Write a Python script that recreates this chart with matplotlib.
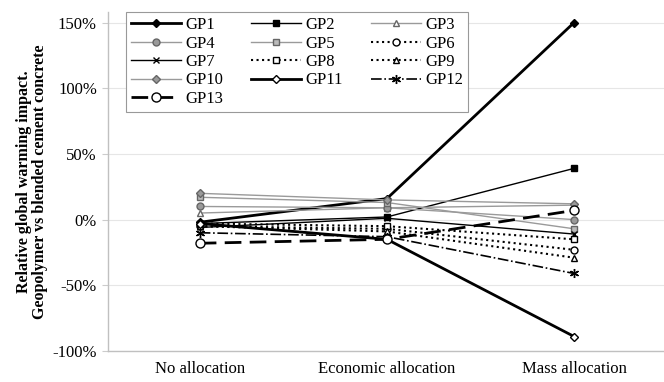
import matplotlib
matplotlib.use("Agg")
import matplotlib.pyplot as plt
from matplotlib.ticker import FuncFormatter

plt.rcParams['font.family'] = ['Liberation Serif', 'DejaVu Serif']

categories = ["No allocation", "Economic allocation", "Mass allocation"]
series_names = ["GP1", "GP2", "GP3", "GP4", "GP5", "GP6", "GP7",
                "GP8", "GP9", "GP10", "GP11", "GP12", "GP13"]
GP1 = [-2, 16, 150]
GP2 = [-3, 2, 39]
GP3 = [5, 9, 11]
GP4 = [10, 9, 0]
GP5 = [17, 13, -7]
GP6 = [-5, -7, -23]
GP7 = [-6, 1, -11]
GP8 = [-3, -5, -15]
GP9 = [-5, -9, -29]
GP10 = [20, 15, 12]
GP11 = [-3, -15, -89]
GP12 = [-10, -13, -41]
GP13 = [-18, -15, 7]
values = [GP1, GP2, GP3, GP4, GP5, GP6, GP7, GP8, GP9, GP10, GP11, GP12, GP13]
yticks = [-100, -50, 0, 50, 100, 150]

gray = '#9a9a9a'
dgray = '#666666'
styles = [
    dict(color='black', lw=2.0, ls='-', marker='D', ms=4.5, mfc='black', mec='black'),
    dict(color='black', lw=1.0, ls='-', marker='s', ms=5, mfc='black', mec='black'),
    dict(color=gray, lw=1.0, ls='-', marker='^', ms=5, mfc='white', mec=dgray),
    dict(color=gray, lw=1.0, ls='-', marker='o', ms=5, mfc=gray, mec=dgray),
    dict(color=gray, lw=1.0, ls='-', marker='s', ms=5, mfc='#bbbbbb', mec=dgray),
    dict(color='black', lw=1.5, ls=':', marker='o', ms=5, mfc='white', mec='black'),
    dict(color='black', lw=1.0, ls='-', marker='x', ms=5, mfc='black', mec='black'),
    dict(color='black', lw=1.5, ls=':', marker='s', ms=5, mfc='white', mec='black'),
    dict(color='black', lw=1.5, ls=':', marker='^', ms=5, mfc='white', mec='black'),
    dict(color=gray, lw=1.0, ls='-', marker='D', ms=4, mfc=gray, mec=dgray),
    dict(color='black', lw=2.0, ls='-', marker='D', ms=4.5, mfc='white', mec='black'),
    dict(color='black', lw=1.2, ls='-.', marker=(6, 2, 0), ms=6.5, mfc='black', mec='black'),
    dict(color='black', lw=2.0, ls=(0, (6, 3)), marker='o', ms=6.5, mfc='white', mec='black'),
]

fig = plt.figure(figsize=(6.64, 3.82), dpi=100)
ax = fig.add_axes([108/664, 31/382, 1 - 108/664, 339/382])

x = list(range(len(categories)))
handles = []
for name, vals, st in zip(series_names, values, styles):
    h, = ax.plot(x, vals, label=name, zorder=3, **st)
    handles.append(h)

ax.set_xlim(-0.49, 2.48)
ax.set_ylim(-100, 158)
ax.set_yticks(yticks)
ax.yaxis.set_major_formatter(FuncFormatter(lambda v, p: f"{int(v)}%"))
ax.set_xticks(x)
ax.set_xticklabels(categories)
ax.tick_params(axis='x', length=0, labelsize=12, pad=7)
ax.tick_params(axis='y', length=4, color='#cccccc', labelsize=12, pad=4)
ax.grid(axis='y', color='#e6e6e6', lw=0.8, zorder=0)
for s in ['top', 'right']:
    ax.spines[s].set_visible(False)
for s in ['left', 'bottom']:
    ax.spines[s].set_color('#c0c0c0')
    ax.spines[s].set_linewidth(1.0)

ax.set_ylabel("Relative global warming impact.\nGeopolymer vs blended cement concrete",
              fontsize=11.5, fontweight='bold', labelpad=3, linespacing=1.05)

# row-wise order
order = [0, 3, 6, 9, 12, 1, 4, 7, 10, 2, 5, 8, 11]
leg = ax.legend([handles[i] for i in order], [series_names[i] for i in order],
                ncol=3, loc='upper left', bbox_to_anchor=(0.032, 1.0),
                borderaxespad=0,
                frameon=True, fancybox=False, framealpha=1, edgecolor='#999999',
                fontsize=12, handlelength=3.0, handletextpad=0.25,
                columnspacing=1.7, labelspacing=0.15, borderpad=0.3)
leg.get_frame().set_linewidth(0.8)

fig.savefig("out.png", dpi=100)
